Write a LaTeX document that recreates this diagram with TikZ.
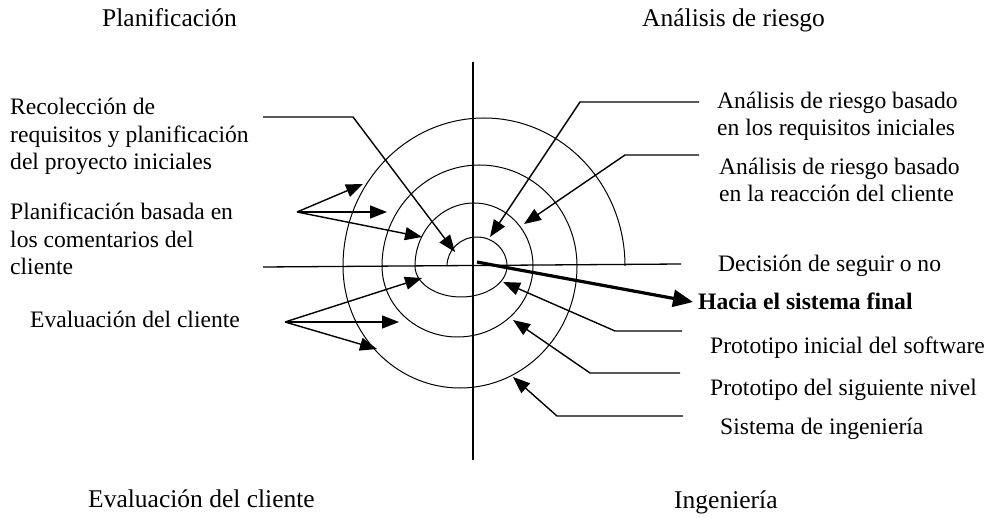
\documentclass[tikz,border=0pt]{standalone}
\usepackage{fontspec}
\setmainfont{Liberation Serif}
\usetikzlibrary{arrows.meta}
\begin{document}
\begin{tikzpicture}[x=1pt,y=-1pt,
  lbl/.style={inner sep=0pt, anchor=base west, align=left,
    font=\fontsize{23.6}{27.8}\selectfont},
  head/.style={inner sep=0pt, anchor=base west,
    font=\fontsize{25.5}{30}\selectfont},
  axisline/.style={line width=1.3pt},
  spiralline/.style={line width=1pt},
  leader/.style={line width=1.4pt},
  pointer/.style={leader, -{Triangle[length=17pt,width=13pt]}},
  exitarrow/.style={line width=3.2pt, -{Triangle[length=20pt,width=17pt]}}]
\useasboundingbox (0,0) rectangle (998,518);

% quadrant headings
\node[head] (hplan) at (102,27) {Planificación};
\node[head] (hrisk) at (642,27) {Análisis de riesgo};
\node[head] (heval) at (88,507) {Evaluación del cliente};
\node[head] (heng)  at (674,508) {Ingeniería};

% labels on the left (base anchor = baseline of the last line)
\node[lbl] (recol) at (10,170) {Recolección de\\requisitos y planificación\\del proyecto iniciales};
\node[lbl] (plan)  at (10,275) {Planificación basada en\\los comentarios del\\cliente};
\node[lbl] (eval)  at (30,327) {Evaluación del cliente};

% labels on the right
\node[lbl] (risk1)  at (717,136) {Análisis de riesgo basado\\en los requisitos iniciales};
\node[lbl] (risk2)  at (719,202) {Análisis de riesgo basado\\en la reacción del cliente};
\node[lbl] (decide) at (718,272) {Decisión de seguir o no};
\node[lbl, font=\fontsize{23.6}{27.8}\selectfont\bfseries] (final) at (698,310) {Hacia el sistema final};
\node[lbl] (proto1) at (710,353) {Prototipo inicial del software};
\node[lbl] (proto2) at (710,395) {Prototipo del siguiente nivel};
\node[lbl] (eng)    at (720,434) {Sistema de ingeniería};

% axes
\coordinate (vtop) at (473,62);
\coordinate (vbot) at (473,460);
\coordinate (hleft) at (263,267);
\coordinate (hright) at (681,264);
\draw[axisline] (vtop) -- (vbot);
\draw[axisline] (hleft) -- (hright);

% spiral: upper and lower half-turns
\coordinate (s0) at (447,266);
\draw[spiralline] (s0)
  arc[start angle=180, end angle=360, x radius=30,   y radius=29]
  arc[start angle=0,   end angle=180, x radius=46,   y radius=31]
  arc[start angle=180, end angle=360, x radius=59,   y radius=63]
  arc[start angle=0,   end angle=180, x radius=75.5, y radius=71]
  arc[start angle=180, end angle=360, x radius=97.5, y radius=101]
  arc[start angle=0,   end angle=180, x radius=117,  y radius=122]
  arc[start angle=180, end angle=360, x radius=141,  y radius=148];

% leader: requirements gathering
\coordinate (recolstart) at (263,117);
\coordinate (recolbend) at (353,117);
\coordinate (recoltip) at (455,252);
\draw[pointer] (recolstart) -- (recolbend) -- (recoltip);

% fan: planning from customer comments
\coordinate (planhub) at (297,212);
\coordinate (plantipA) at (363,184);
\coordinate (plantipB) at (387,212);
\coordinate (plantipC) at (422,237);
\draw[pointer] (planhub) -- (plantipA);
\draw[pointer] (planhub) -- (plantipB);
\draw[pointer] (planhub) -- (plantipC);

% fan: customer evaluation
\coordinate (evalhub) at (285,322);
\coordinate (evaltipA) at (422,278);
\coordinate (evaltipB) at (399,322);
\coordinate (evaltipC) at (377,349);
\draw[pointer] (evalhub) -- (evaltipA);
\draw[pointer] (evalhub) -- (evaltipB);
\draw[pointer] (evalhub) -- (evaltipC);

% leaders: risk analysis
\coordinate (risk1start) at (699,102);
\coordinate (risk1bend) at (580,102);
\coordinate (risk1tip) at (490,237);
\draw[pointer] (risk1start) -- (risk1bend) -- (risk1tip);
\coordinate (risk2start) at (699,155);
\coordinate (risk2bend) at (625,155);
\coordinate (risk2tip) at (524,224);
\draw[pointer] (risk2start) -- (risk2bend) -- (risk2tip);

% exit towards the final system
\coordinate (exitstart) at (477,262);
\coordinate (exitbend) at (498,266);
\coordinate (exittip) at (693,302);
\draw[exitarrow] (exitstart) -- (exitbend) -- (exittip);

% leaders: engineering
\coordinate (proto1start) at (682,331);
\coordinate (proto1bend) at (615,331);
\coordinate (proto1tip) at (503,282);
\draw[pointer] (proto1start) -- (proto1bend) -- (proto1tip);
\coordinate (proto2start) at (680,373);
\coordinate (proto2bend) at (590,373);
\coordinate (proto2tip) at (513,320);
\draw[pointer] (proto2start) -- (proto2bend) -- (proto2tip);
\coordinate (engstart) at (683,416);
\coordinate (engbend) at (557,416);
\coordinate (engtip) at (513,377);
\draw[pointer] (engstart) -- (engbend) -- (engtip);
\end{tikzpicture}
\end{document}
